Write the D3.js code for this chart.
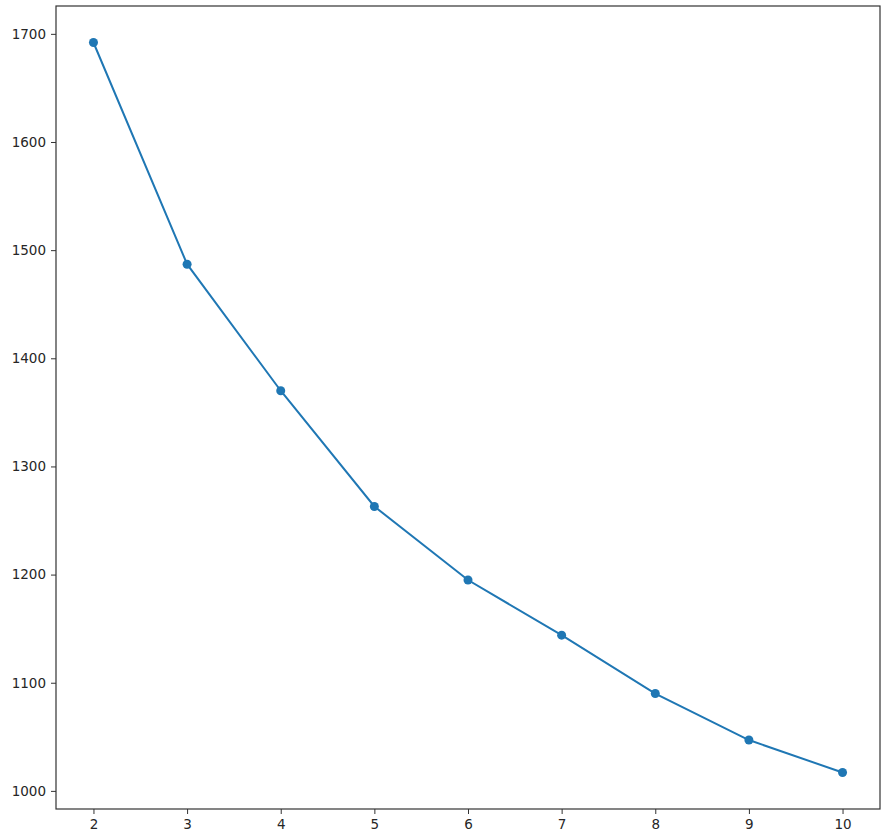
<!DOCTYPE html>
<html>
<head>
<meta charset="utf-8">
<script src="https://cdn.jsdelivr.net/npm/d3@7"></script>
<style>
  body { margin: 0; background: #fff; }
  svg text { font-family: "DejaVu Sans", sans-serif; }
</style>
</head>
<body>
<svg id="chart" width="893" height="840"></svg>
<script>
const clusters = [2, 3, 4, 5, 6, 7, 8, 9, 10];
const inertia = [1692, 1487, 1370, 1263, 1195, 1144, 1090, 1047, 1017];
const yTicks = [1000, 1100, 1200, 1300, 1400, 1500, 1600, 1700];

const width = 893, height = 840;
const margin = { top: 6, right: 13, bottom: 31, left: 56 };
const svg = d3.select('#chart');

// matplotlib-style 5% padding around the data
const xPad = (d3.max(clusters) - d3.min(clusters)) * 0.05;
const yPad = (d3.max(inertia) - d3.min(inertia)) * 0.05;

const x = d3.scaleLinear()
  .domain([d3.min(clusters) - xPad, d3.max(clusters) + xPad])
  .range([margin.left, width - margin.right]);
const y = d3.scaleLinear()
  .domain([d3.min(inertia) - yPad, d3.max(inertia) + yPad])
  .range([height - margin.bottom, margin.top]);

const xAxis = svg.append('g')
  .attr('transform', `translate(0,${height - margin.bottom})`)
  .call(d3.axisBottom(x).tickValues(clusters).tickFormat(d3.format('d')).tickSize(5).tickPadding(5));
const yAxis = svg.append('g')
  .attr('transform', `translate(${margin.left},0)`)
  .call(d3.axisLeft(y).tickValues(yTicks).tickFormat(d3.format('d')).tickSize(5).tickPadding(5));

[xAxis, yAxis].forEach(g => {
  g.select('.domain').remove();
  g.selectAll('line').attr('stroke', '#333').attr('stroke-width', 1);
  g.selectAll('text').attr('fill', '#262626').style('font-size', '13.5px');
});

// frame
svg.append('rect')
  .attr('x', margin.left).attr('y', margin.top)
  .attr('width', width - margin.left - margin.right)
  .attr('height', height - margin.top - margin.bottom)
  .attr('fill', 'none').attr('stroke', '#333').attr('stroke-width', 1.2);

const pts = clusters.map((k, i) => [k, inertia[i]]);
const line = d3.line().x(d => x(d[0])).y(d => y(d[1]));

svg.append('path')
  .datum(pts)
  .attr('d', line)
  .attr('fill', 'none')
  .attr('stroke', '#1f77b4')
  .attr('stroke-width', 2);

svg.selectAll('circle')
  .data(pts)
  .join('circle')
  .attr('cx', d => x(d[0]))
  .attr('cy', d => y(d[1]))
  .attr('r', 4.5)
  .attr('fill', '#1f77b4');
</script>
</body>
</html>
